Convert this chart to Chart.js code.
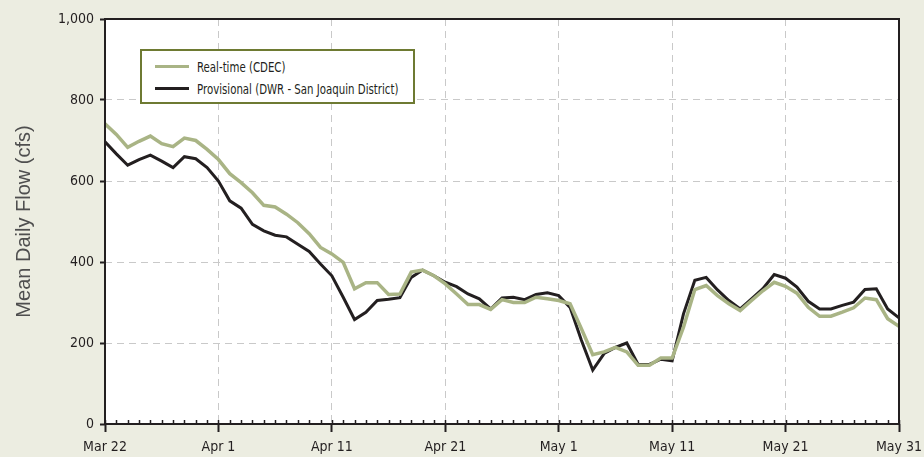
<!DOCTYPE html>
<html>
<head>
<meta charset="utf-8">
<script src="https://cdn.jsdelivr.net/npm/chart.js@4"></script>
<style>
  html, body { margin: 0; padding: 0; background: #ecede1; }
  #wrap { position: relative; width: 924px; height: 457px; }
  #legend {
    position: absolute; left: 140px; top: 49px; width: 271px; height: 51px;
    border: 2px solid #6e7a32; background: #fff;
    font-family: "DejaVu Sans Condensed", "DejaVu Sans", sans-serif;
    font-size: 13.5px; color: #231f20;
  }
  #legend .row { position: absolute; left: 0; height: 16px; line-height: 16px; white-space: nowrap; }
  #legend .sw { position: absolute; left: 13px; top: 6px; width: 34px; height: 3px; }
  #legend .tx { position: absolute; left: 55px; top: 0; transform: scaleX(0.84); transform-origin: left center; }
</style>
</head>
<body>
<div id="wrap">
  <canvas id="flowChart" width="924" height="457"></canvas>
  <div id="legend"></div>
</div>
<script>
// x positions are days since Mar 22 (0..70)
var tickLabels = ['Mar 22', 'Apr 1', 'Apr 11', 'Apr 21', 'May 1', 'May 11', 'May 21', 'May 31'];
var seriesNames = ['Real-time (CDEC)', 'Provisional (DWR - San Joaquin District)'];

var realtimeFlow = [
    741, 715, 683, 698, 711, 692, 685, 706, 700, 678,
    653, 618, 596, 571, 540, 536, 518, 497, 470, 436,
    420, 399, 334, 349, 349, 320, 321, 375, 380, 366,
    346, 321, 295, 295, 283, 307, 300, 300, 313, 309,
    305, 297, 235, 171, 178, 189, 178, 145, 145, 163,
    163, 239, 332, 342, 317, 297, 280, 305, 329, 350,
    340, 323, 288, 266, 266, 276, 287, 311, 307, 260,
    241
];
var provisionalFlow = [
    697, 667, 639, 653, 664, 649, 633, 660, 655, 633,
    600, 551, 533, 493, 477, 466, 462, 444, 426, 395,
    366, 313, 258, 276, 305, 308, 312, 362, 380, 366,
    350, 339, 321, 309, 284, 311, 313, 307, 320, 324,
    317, 288, 207, 133, 174, 189, 200, 147, 147, 160,
    156, 272, 355, 362, 331, 305, 284, 309, 334, 369,
    360, 338, 303, 284, 284, 293, 301, 332, 334, 284,
    262
];

var greenLine = '#a9b485';
var darkLine = '#231f20';
var axisFont = { family: '"DejaVu Sans Condensed", "DejaVu Sans", sans-serif', size: 14 };

function toPoints(values) {
    return values.map(function (v, i) { return { x: i, y: v }; });
}

// white plot area, box border and the small inward day ticks
var framePlugin = {
    id: 'frame',
    beforeDraw: function (chart) {
        var ctx = chart.ctx, a = chart.chartArea;
        ctx.save();
        ctx.fillStyle = '#ecede1';
        ctx.fillRect(0, 0, chart.width, chart.height);
        ctx.fillStyle = '#ffffff';
        ctx.fillRect(a.left, a.top, a.right - a.left, a.bottom - a.top);
        ctx.restore();
    },
    afterDraw: function (chart) {
        var ctx = chart.ctx, a = chart.chartArea, xs = chart.scales.x;
        ctx.save();
        ctx.strokeStyle = darkLine;
        ctx.lineWidth = 1.5;
        for (var i = 0; i <= realtimeFlow.length - 1; i++) {
            var px = Math.round(xs.getPixelForValue(i)) + 0.5;
            ctx.beginPath();
            ctx.moveTo(px, a.bottom);
            ctx.lineTo(px, a.bottom - 4);
            ctx.stroke();
        }
        ctx.lineWidth = 2;
        ctx.strokeRect(a.left, a.top, a.right - a.left, a.bottom - a.top);
        ctx.restore();
    }
};

var ctx = document.getElementById('flowChart').getContext('2d');
new Chart(ctx, {
    type: 'line',
    data: {
        datasets: [{
            label: seriesNames[0],
            data: toPoints(realtimeFlow),
            borderColor: greenLine,
            borderWidth: 3.5,
            pointRadius: 0,
            tension: 0,
            order: 1
        }, {
            label: seriesNames[1],
            data: toPoints(provisionalFlow),
            borderColor: darkLine,
            borderWidth: 3,
            pointRadius: 0,
            tension: 0,
            order: 2
        }]
    },
    options: {
        responsive: false,
        animation: false,
        layout: { padding: { top: 19, right: 25, left: 0, bottom: 0 } },
        plugins: {
            legend: { display: false },
            tooltip: { enabled: false }
        },
        scales: {
            x: {
                type: 'linear',
                min: 0,
                max: 70,
                afterFit: function (scale) {
                    scale.height = 33;
                    // let the "May 31" label hang over the right margin
                    scale.paddingLeft = 0;
                    scale.paddingRight = 0;
                },
                ticks: {
                    stepSize: 10,
                    autoSkip: false,
                    maxRotation: 0,
                    padding: 7,
                    color: darkLine,
                    font: axisFont,
                    callback: function (v) { return tickLabels[v / 10]; }
                },
                grid: {
                    color: '#c9c9c9',
                    lineWidth: 1,
                    tickColor: darkLine,
                    tickLength: 8,
                    tickWidth: 2,
                    tickBorderDash: []
                },
                border: { display: false, dash: [7, 5] }
            },
            y: {
                min: 0,
                max: 1000,
                afterFit: function (scale) {
                    scale.width = 105;
                    scale.paddingTop = 0;
                    scale.paddingBottom = 0;
                },
                ticks: {
                    stepSize: 200,
                    padding: 6,
                    color: darkLine,
                    font: axisFont,
                    callback: function (v) { return v.toLocaleString('en-US'); }
                },
                grid: {
                    color: '#c9c9c9',
                    lineWidth: 1,
                    tickColor: darkLine,
                    tickLength: 5,
                    tickWidth: 2,
                    tickBorderDash: []
                },
                border: { display: false, dash: [7, 5] },
                title: {
                    display: true,
                    text: 'Mean Daily Flow (cfs)',
                    color: '#4f4f4f',
                    font: { family: '"Liberation Sans", Arial, sans-serif', size: 20 },
                    padding: { top: 12, bottom: 0 }
                }
            }
        }
    },
    plugins: [framePlugin]
});

// legend box inside the plot
var legendEl = document.getElementById('legend');
[greenLine, darkLine].forEach(function (color, i) {
    var row = document.createElement('div');
    row.className = 'row';
    row.style.top = (8 + i * 22) + 'px';
    row.innerHTML = '<span class="sw" style="background:' + color + '"></span><span class="tx"></span>';
    row.querySelector('.tx').textContent = seriesNames[i];
    legendEl.appendChild(row);
});
</script>
</body>
</html>
